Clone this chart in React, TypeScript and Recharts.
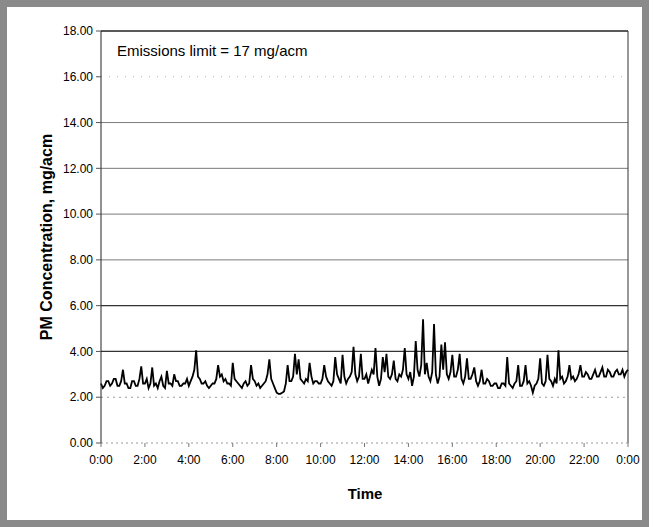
import { LineChart, Line, XAxis, YAxis, ReferenceLine } from 'recharts'

// PM concentration (mg/acm), one reading every 5 minutes from 0:00 to 0:00 next day
const pmValues = [
  2.6, 2.4, 2.5, 2.7, 2.7, 2.5, 2.6, 2.8, 2.8, 2.5, 2.5, 2.7, 3.2, 2.6, 2.6, 2.4, 2.4, 2.7, 2.7, 2.5, 2.5, 2.8, 3.35, 2.6,
  2.6, 2.8, 2.4, 2.6, 3.3, 2.5, 2.6, 2.4, 2.7, 2.9, 2.5, 2.4, 3.15, 2.6, 2.6, 2.5, 3.0, 2.7, 2.7, 2.5, 2.5, 2.6, 2.6, 2.8,
  2.5, 2.7, 2.9, 3.2, 4.05, 2.9, 2.8, 2.6, 2.6, 2.7, 2.5, 2.4, 2.5, 2.6, 2.6, 2.8, 3.4, 2.9, 3.0, 2.7, 2.8, 2.6, 2.6, 2.5,
  3.5, 2.8, 2.7, 2.6, 2.5, 2.4, 2.6, 2.7, 2.5, 2.6, 3.4, 2.8, 2.7, 2.5, 2.6, 2.4, 2.5, 2.6, 2.7, 3.0, 3.65, 2.8, 2.6, 2.4,
  2.2, 2.15, 2.15, 2.2, 2.25, 2.6, 3.4, 2.7, 2.7, 2.9, 3.9, 3.0, 3.65, 2.8, 2.7, 2.6, 2.8, 2.7, 3.5, 2.9, 2.6, 2.7, 2.7, 2.6,
  2.6, 2.8, 3.4, 2.9, 2.7, 2.6, 2.5, 2.7, 3.75, 3.0, 2.8, 2.6, 3.85, 2.9, 2.6, 2.8, 2.9, 3.1, 4.2, 3.0, 2.7, 2.9, 3.9, 2.8,
  2.8, 3.0, 2.6, 2.9, 3.2, 3.0, 4.15, 2.9, 2.5, 2.8, 3.75, 3.1, 3.9, 2.9, 2.8, 3.0, 3.6, 2.8, 2.7, 3.0, 2.9, 3.2, 4.15, 3.0,
  2.8, 3.1, 2.5, 2.9, 4.45, 3.2, 2.9, 3.4, 5.4, 3.0, 3.5, 2.9, 2.7, 3.1, 5.2, 3.0, 2.6, 2.9, 4.3, 3.2, 4.4, 3.0, 2.8, 3.1,
  3.85, 2.9, 2.9, 3.2, 3.9, 2.8, 2.6, 2.9, 3.7, 2.8, 2.8, 3.0, 3.3, 2.7, 2.5, 2.7, 3.2, 2.6, 2.6, 2.8, 2.7, 2.5, 2.5, 2.6,
  2.6, 2.4, 2.4, 2.6, 2.6, 2.5, 3.75, 2.6, 2.5, 2.4, 2.6, 2.7, 3.4, 2.5, 2.5, 2.7, 3.4, 2.6, 2.7, 2.5, 2.2, 2.5, 2.6, 2.8,
  3.7, 2.6, 2.5, 2.7, 3.85, 2.8, 2.7, 2.5, 2.8, 2.6, 4.05, 2.8, 2.9, 2.6, 2.7, 2.9, 3.4, 2.8, 2.9, 2.7, 2.8, 3.0, 3.4, 2.9,
  2.9, 3.1, 3.0, 2.8, 2.8, 3.0, 3.2, 2.9, 2.9, 3.1, 3.3, 2.9, 2.9, 3.2, 3.1, 2.9, 2.9, 3.1, 3.2, 3.0, 3.0, 3.2, 2.9, 3.1,
  3.2,
]
const xTicks = [0, 2, 4, 6, 8, 10, 12, 14, 16, 18, 20, 22, 24]
const xTickLabels = ['0:00', '2:00', '4:00', '6:00', '8:00', '10:00', '12:00', '14:00', '16:00', '18:00', '20:00', '22:00', '0:00']
const yTicks = [0, 2, 4, 6, 8, 10, 12, 14, 16, 18]

const data = pmValues.map((v, i) => ({ hour: (i * 5) / 60, pm: v }))

const font = '"Liberation Sans", Arial, sans-serif'

const gridStyle: Record<number, { stroke: string; dash?: string; width: number }> = {
  2: { stroke: '#9a9a9a', dash: '2 4', width: 1 },
  4: { stroke: '#333', width: 1.2 },
  6: { stroke: '#333', width: 1.2 },
  8: { stroke: '#7a7a7a', width: 1 },
  10: { stroke: '#7a7a7a', width: 1 },
  12: { stroke: '#7a7a7a', width: 1 },
  14: { stroke: '#7a7a7a', width: 1 },
  16: { stroke: '#b5b5b5', dash: '1 7', width: 1 },
  18: { stroke: '#222', width: 1.5 },
}

export default function App() {
  return (
    <div style={{ position: 'absolute', left: 0, top: 0, width: 656, height: 527, background: '#fff', fontFamily: font }}>
      <div style={{
        position: 'absolute', left: 0, top: 0, width: 649, height: 527,
        boxSizing: 'border-box', border: '7px solid #8a8a8a',
      }} />
      <div style={{ position: 'absolute', left: 0, top: 0 }}>
        <LineChart width={656} height={527} data={data} margin={{ top: 31, right: 28, bottom: 54, left: 0 }}>
          <XAxis
            dataKey="hour" type="number" domain={[0, 24]} ticks={xTicks}
            tickFormatter={(v: number) => xTickLabels[xTicks.indexOf(v)]}
            tick={{ fontFamily: font, fontSize: 12, fill: '#000' }}
            tickSize={4} tickMargin={8} height={30}
            axisLine={{ stroke: '#999', strokeDasharray: '2 3' }}
            tickLine={{ stroke: '#777' }}
            interval={0}
          />
          <YAxis
            type="number" domain={[0, 18]} ticks={yTicks} width={101}
            tickFormatter={(v: number) => v.toFixed(2)}
            tick={{ fontFamily: font, fontSize: 12, fill: '#000' }}
            tickSize={5} tickMargin={3}
            axisLine={{ stroke: '#222' }}
            tickLine={{ stroke: '#555' }}
            interval={0}
          />
          {yTicks.filter(t => t > 0).map(t => (
            <ReferenceLine key={t} y={t} stroke={gridStyle[t].stroke}
              strokeWidth={gridStyle[t].width} strokeDasharray={gridStyle[t].dash} />
          ))}
          <ReferenceLine x={24} stroke="#333" strokeWidth={1} />
          <Line
            type="linear" dataKey="pm" stroke="#000" strokeWidth={1.8}
            dot={false} isAnimationActive={false}
          />
        </LineChart>
      </div>
      <div style={{ position: 'absolute', left: 117, top: 42, fontSize: 15, color: '#000' }}>
        Emissions limit = 17 mg/acm
      </div>
      <div style={{
        position: 'absolute', left: 47, top: 237, transform: 'translate(-50%, -50%) rotate(-90deg)',
        fontSize: 16, fontWeight: 700, whiteSpace: 'nowrap', color: '#000',
      }}>
        PM Concentration, mg/acm
      </div>
      <div style={{
        position: 'absolute', left: 365, top: 493, transform: 'translate(-50%, -50%)',
        fontSize: 15, fontWeight: 700, color: '#000',
      }}>
        Time
      </div>
    </div>
  )
}
